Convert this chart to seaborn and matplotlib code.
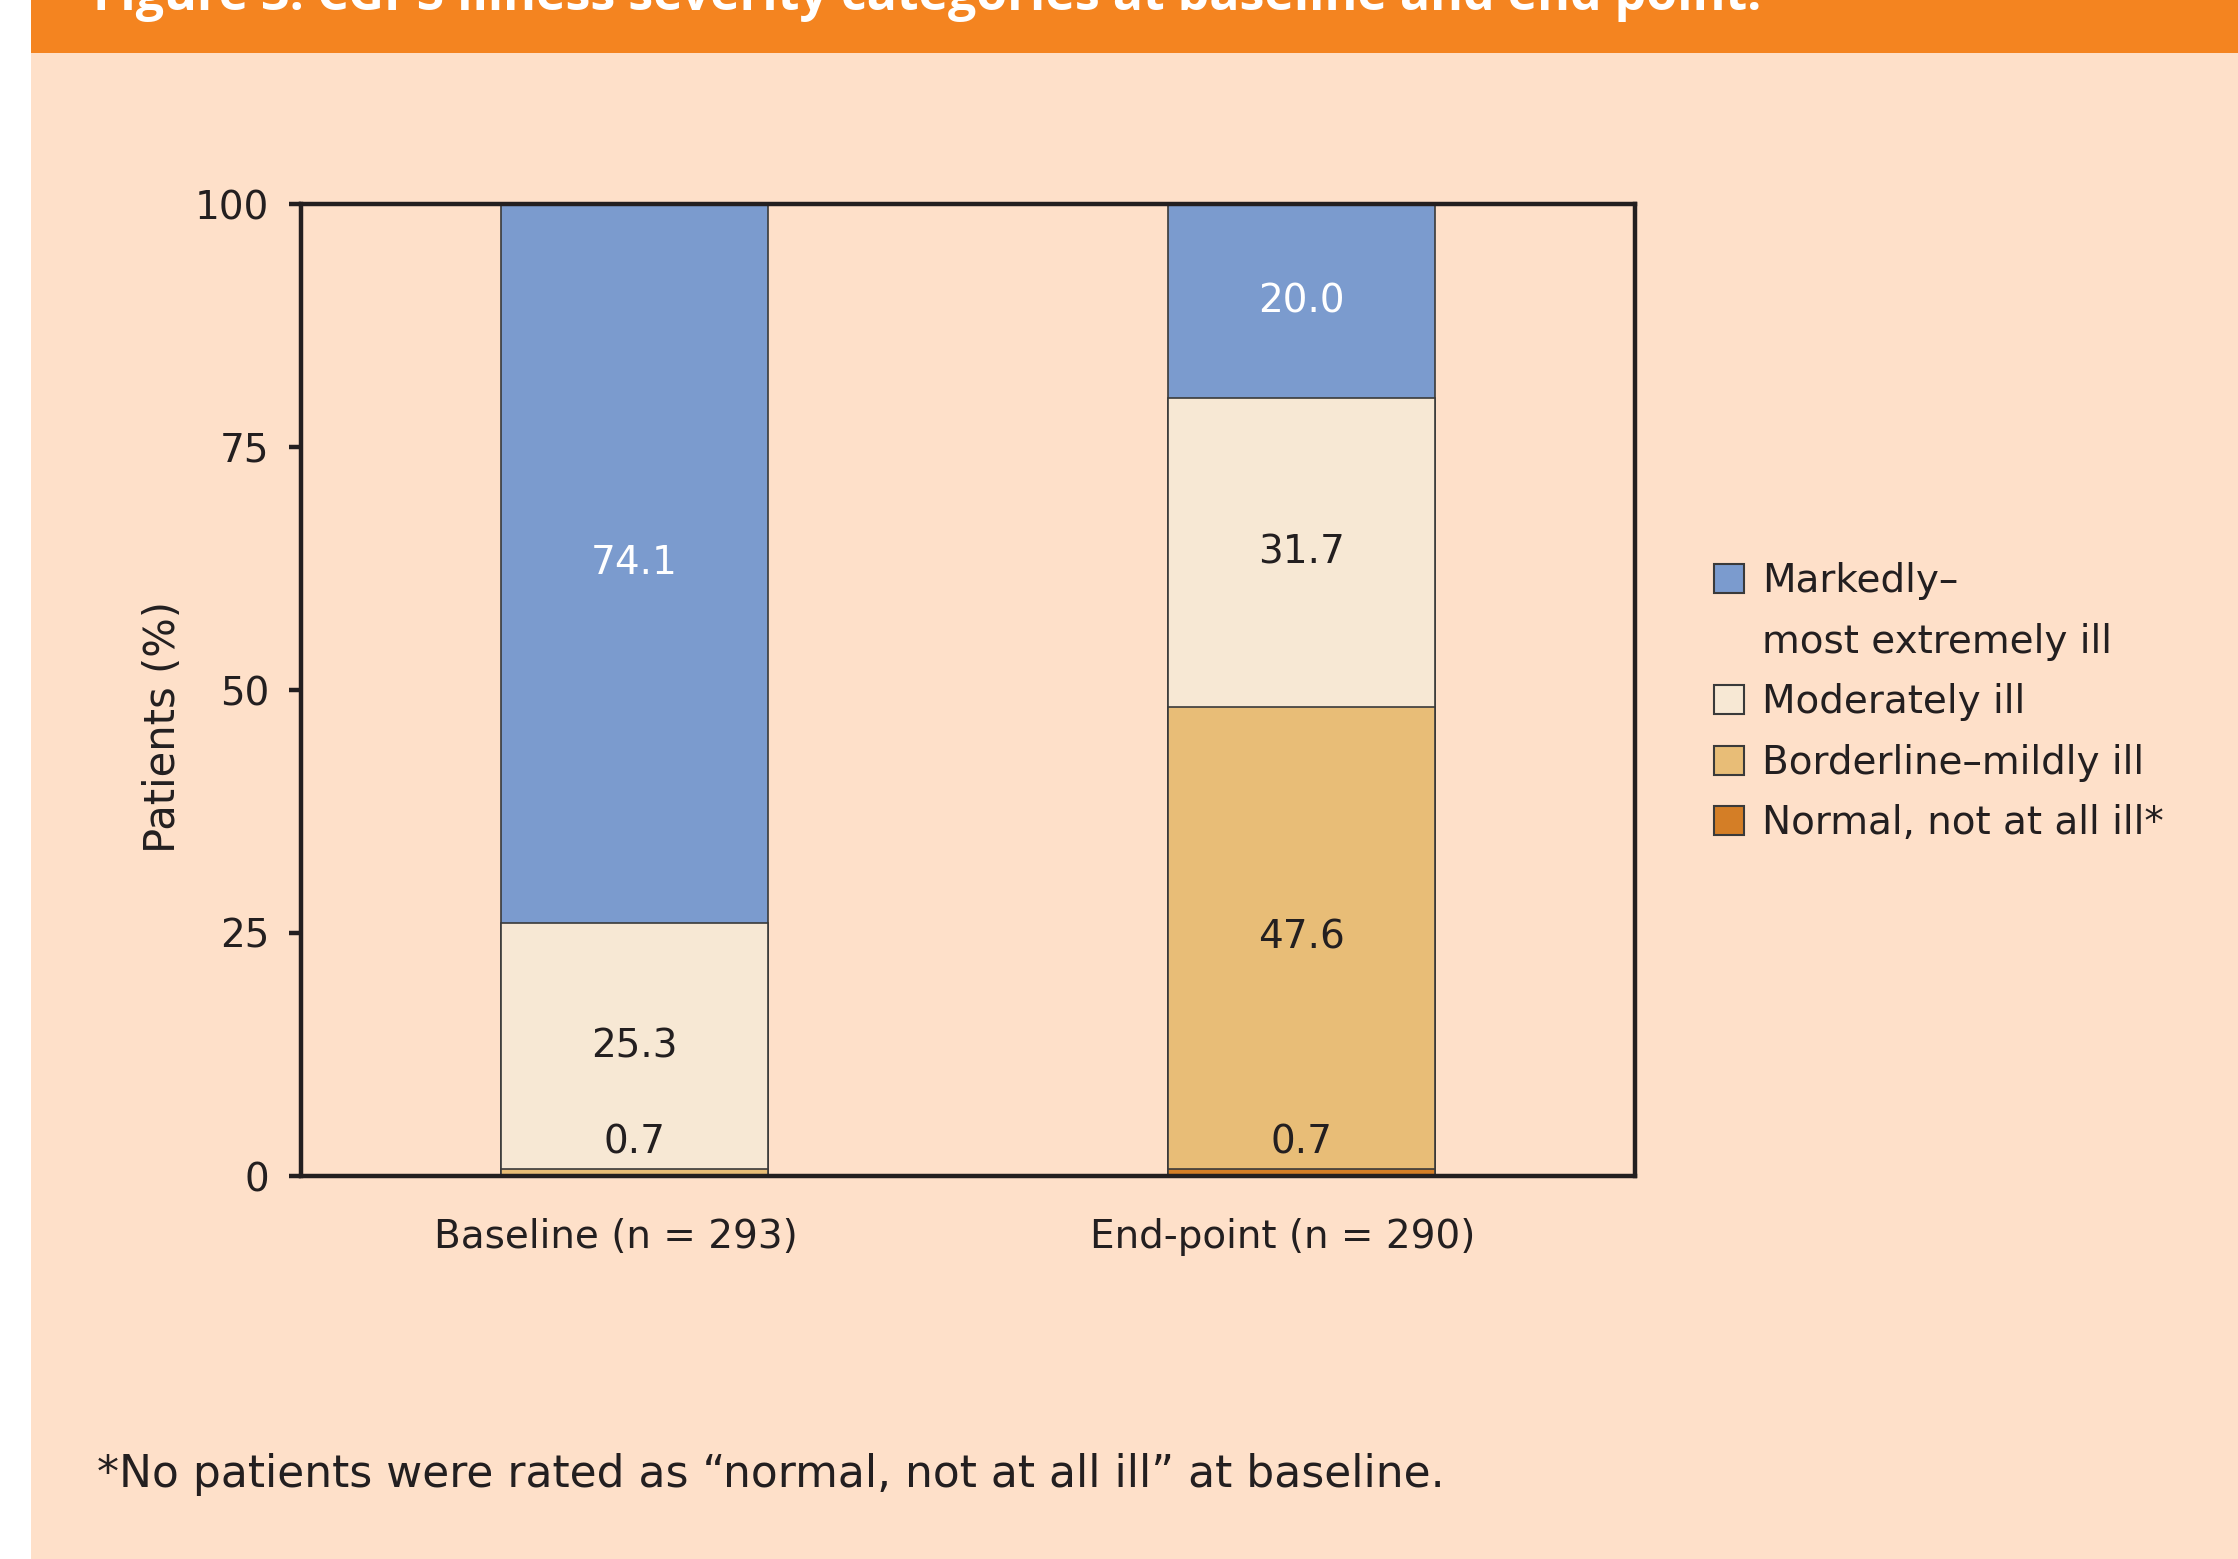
import numpy as np
import pandas as pd
import matplotlib
matplotlib.use('Agg')
import matplotlib.pyplot as plt
from matplotlib.patches import Patch, Rectangle
import seaborn as sns

# Data (percent of patients per CGI-S category)
groups = ['Baseline (n = 293)', 'End-point (n = 290)']
categories = ['Normal, not at all ill*', 'Borderline\u2013mildly ill', 'Moderately ill',
              'Markedly\u2013\nmost extremely ill']
normal = [0.0, 0.7]
borderline = [0.7, 47.6]
moderately = [25.3, 31.7]
markedly = [74.1, 20.0]
yticks = [0, 25, 50, 75, 100]

colors = ['#D47E26', '#E8BD77', '#F7E8D4', '#7B9BCE']
label_colors = ['#231F20', '#231F20', '#231F20', 'white']
bg = '#FEE0C9'
ink = '#231F20'

sns.set_theme(style='white')
plt.rcParams['font.family'] = ['DejaVu Sans']
plt.rcParams['text.color'] = ink
plt.rcParams['axes.labelcolor'] = ink
plt.rcParams['xtick.color'] = ink
plt.rcParams['ytick.color'] = ink

series = [normal, borderline, moderately, markedly]
df = pd.DataFrame({'group': groups})
for cat, vals in zip(categories, series):
    df[cat] = vals
cum = df[categories].cumsum(axis=1)

fig = plt.figure(figsize=(22.38, 15.59), dpi=100, facecolor='white')
# page background: white margin on the left, peach panel, orange header band
fig.patches.append(Rectangle((31 / 2238, 0), 1, 1, transform=fig.transFigure,
                             facecolor=bg, edgecolor='none', zorder=-2))
fig.patches.append(Rectangle((31 / 2238, 1 - 53 / 1559), 1, 53 / 1559,
                             transform=fig.transFigure, facecolor='#F48420',
                             edgecolor='none', zorder=-1))
fig.text(93 / 2238, 1 - 10 / 1559,
         'Figure 3: CGI-S illness severity categories at baseline and end point.',
         color='white', fontsize=36, fontweight='bold', va='baseline', ha='left',
         family='Open Sans')

ax = fig.add_axes([301 / 2238, 1 - 1176 / 1559, 1334 / 2238, 972 / 1559])
ax.set_facecolor(bg)

# stacked bars: draw cumulative totals from the top category down
for i in range(len(categories) - 1, -1, -1):
    sns.barplot(x=df['group'], y=cum[categories[i]], color=colors[i], width=0.4,
                edgecolor='#3A3A3A', linewidth=1.2, saturation=1, ax=ax, zorder=2)

# value labels
for g in range(len(groups)):
    bottom = 0.0
    for i, vals in enumerate(series):
        v = vals[g]
        if v > 0:
            if v < 3:
                ax.text(g, bottom + v + 0.8, f'{v:.1f}', ha='center', va='bottom',
                        fontsize=28, color=ink, zorder=5)
            else:
                ax.text(g, bottom + v / 2, f'{v:.1f}', ha='center', va='center',
                        fontsize=28, color=label_colors[i], zorder=5)
        bottom += v

ax.set_xlim(-0.5, 1.5)
ax.set_ylim(0, 100)
ax.set_yticks(yticks)
ax.set_yticklabels([str(t) for t in yticks], fontsize=28)
# category labels sit slightly left of the bar centres
ax.set_xticks(np.arange(len(groups)) - 0.028)
ax.set_xticklabels(groups, fontsize=28)
ax.set_xticks([-0.5, 0.5, 1.5], minor=True)
ax.tick_params(axis='x', which='major', length=0, pad=30)
ax.tick_params(axis='x', which='minor', direction='out', length=11, width=3.2, color=ink)
ax.tick_params(axis='y', direction='out', length=9, width=3.2, pad=14, color=ink, left=True)
ax.set_xlabel('')
ax.set_ylabel('Patients (%)', fontsize=30, labelpad=8)
ax.yaxis.label.set_y(0.462)
for side in ['left', 'bottom', 'top', 'right']:
    ax.spines[side].set_visible(True)
    ax.spines[side].set_color(ink)
    ax.spines[side].set_linewidth(3.2)
    ax.spines[side].set_zorder(4)

# legend (top category first, with a blank handle for the wrapped line)
handles = [
    Patch(facecolor=colors[3], edgecolor='#3A3A3A', linewidth=1.5),
    Patch(facecolor='none', edgecolor='none'),
    Patch(facecolor=colors[2], edgecolor='#3A3A3A', linewidth=1.5),
    Patch(facecolor=colors[1], edgecolor='#3A3A3A', linewidth=1.5),
    Patch(facecolor=colors[0], edgecolor='#3A3A3A', linewidth=1.5),
]
labels = ['Markedly\u2013', 'most extremely ill', categories[2], categories[1], categories[0]]
fig.legend(handles, labels, loc='upper left', bbox_to_anchor=(1714 / 2238, 1 - 562 / 1559),
           frameon=False, fontsize=28, handlelength=0.78, handleheight=0.78,
           handletextpad=0.45, labelspacing=0.58, borderpad=0, borderaxespad=0)

fig.text(97 / 2238, 1 - 1474 / 1559,
         '*No patients were rated as \u201cnormal, not at all ill\u201d at baseline.',
         fontsize=31.7, va='center', ha='left', color=ink)

fig.savefig('out.png', dpi=100, facecolor='white')
